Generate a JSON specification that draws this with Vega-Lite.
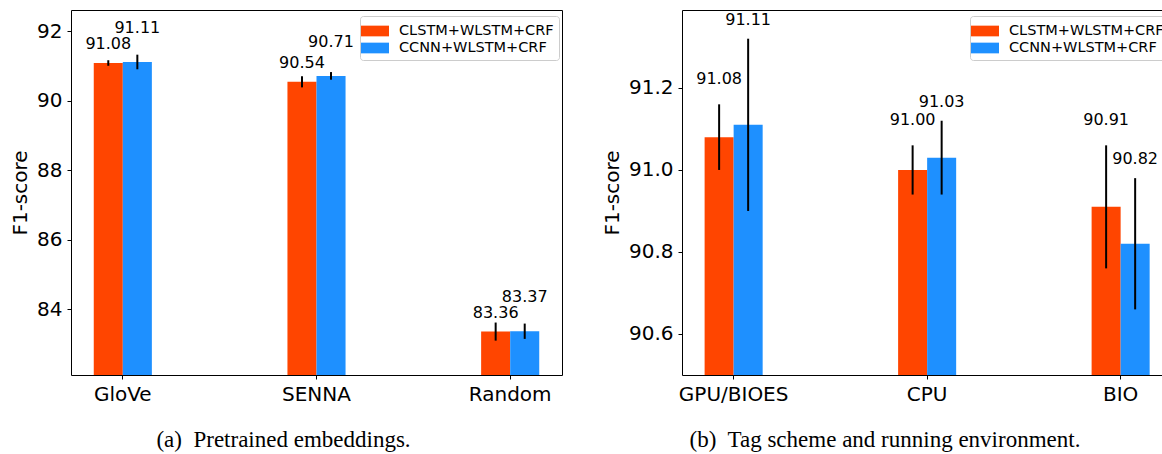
{
  "$schema": "https://vega.github.io/schema/vega-lite/v6.json",
  "background": "white",
  "padding": {"left": 10, "top": 10, "right": 0, "bottom": 0},
  "config": {
    "view": {"stroke": null},
    "axis": {"grid": false, "domainColor": "black", "domainWidth": 1, "tickColor": "black", "tickSize": 4, "tickWidth": 1, "labelFont": "DejaVu Sans", "labelFontSize": 20, "labelColor": "black", "titleFont": "DejaVu Sans", "titleFontSize": 20, "titleFontWeight": "normal", "titleColor": "black"},
    "axisX": {"labelAngle": 0, "labelPadding": 5},
    "axisY": {"labelPadding": 5, "titlePadding": 6},
    "title": {"font": "Liberation Serif", "fontSize": 23, "fontWeight": "normal", "color": "black", "orient": "bottom", "offset": 25},
    "text": {"font": "DejaVu Sans", "fontSize": 16, "color": "black", "baseline": "middle"}
  },
  "datasets": {
    "a": [
      {"emb": "GloVe", "model": "CLSTM+WLSTM+CRF", "f1": 91.08, "lo": 91.00, "hi": 91.16},
      {"emb": "GloVe", "model": "CCNN+WLSTM+CRF", "f1": 91.11, "lo": 90.90, "hi": 91.32},
      {"emb": "SENNA", "model": "CLSTM+WLSTM+CRF", "f1": 90.54, "lo": 90.38, "hi": 90.70},
      {"emb": "SENNA", "model": "CCNN+WLSTM+CRF", "f1": 90.71, "lo": 90.60, "hi": 90.82},
      {"emb": "Random", "model": "CLSTM+WLSTM+CRF", "f1": 83.36, "lo": 83.10, "hi": 83.62},
      {"emb": "Random", "model": "CCNN+WLSTM+CRF", "f1": 83.37, "lo": 83.15, "hi": 83.59}
    ],
    "b": [
      {"env": "GPU/BIOES", "model": "CLSTM+WLSTM+CRF", "f1": 91.08, "lo": 91.00, "hi": 91.16},
      {"env": "GPU/BIOES", "model": "CCNN+WLSTM+CRF", "f1": 91.11, "lo": 90.90, "hi": 91.32},
      {"env": "CPU", "model": "CLSTM+WLSTM+CRF", "f1": 91.00, "lo": 90.94, "hi": 91.06},
      {"env": "CPU", "model": "CCNN+WLSTM+CRF", "f1": 91.03, "lo": 90.94, "hi": 91.12},
      {"env": "BIO", "model": "CLSTM+WLSTM+CRF", "f1": 90.91, "lo": 90.76, "hi": 91.06},
      {"env": "BIO", "model": "CCNN+WLSTM+CRF", "f1": 90.82, "lo": 90.66, "hi": 90.98}
    ]
  },
  "spacing": 120,
  "bounds": "flush",
  "resolve": {"scale": {"color": "independent", "x": "independent", "y": "independent", "xOffset": "independent"}, "legend": {"color": "independent"}},
  "hconcat": [
    {
      "width": 491,
      "height": 365,
      "title": {"text": "(a)\u00a0 Pretrained embeddings.", "dx": -33},
      "data": {"name": "a"},
      "encoding": {
        "xOffset": {"field": "model", "type": "nominal", "sort": ["CLSTM+WLSTM+CRF", "CCNN+WLSTM+CRF"], "scale": {"paddingInner": 0, "paddingOuter": 0}}
      },
      "layer": [
        {
          "mark": {"type": "bar", "clip": true},
          "encoding": {
            "x": {"field": "emb", "type": "nominal", "sort": ["GloVe", "SENNA", "Random"], "scale": {"paddingInner": 0.7, "paddingOuter": 0.1175}, "axis": {"title": null, "orient": "bottom"}},
            "y": {"field": "f1", "type": "quantitative", "scale": {"domain": [82.112, 92.604], "nice": false, "zero": false}, "axis": {"values": [84, 86, 88, 90, 92], "title": "F1-score"}},
            "color": {"field": "model", "type": "nominal", "scale": {"domain": ["CLSTM+WLSTM+CRF", "CCNN+WLSTM+CRF"], "range": ["#FF4500", "#1E90FF"]},
              "legend": {"orient": "none", "legendX": 289, "legendY": 6, "title": null, "symbolType": "M-1.4,-0.535H1.4V0.535H-1.4Z", "symbolSize": 400, "symbolStrokeWidth": 0, "symbolOpacity": 1, "labelFont": "DejaVu Sans", "labelFontSize": 14.5, "labelColor": "black", "labelOffset": 14, "rowPadding": 0, "padding": 5, "fillColor": "rgba(255,255,255,0.8)", "strokeColor": "#cccccc", "cornerRadius": 3}}
          }
        },
        {
          "mark": {"type": "rule", "color": "black", "strokeWidth": 2},
          "encoding": {
            "x": {"field": "emb", "type": "nominal", "sort": ["GloVe", "SENNA", "Random"], "scale": {"paddingInner": 0.7, "paddingOuter": 0.1175}, "axis": {"orient": "top", "labels": false, "ticks": false, "title": null}},
            "y": {"field": "lo", "type": "quantitative", "scale": {"domain": [82.112, 92.604], "nice": false, "zero": false}, "axis": {"orient": "right", "labels": false, "ticks": false, "title": null}},
            "y2": {"field": "hi"}
          }
        },
        {
          "transform": [{"filter": "datum.model === 'CLSTM+WLSTM+CRF'"}],
          "mark": {"type": "text", "dy": -19},
          "encoding": {
            "x": {"field": "emb", "type": "nominal", "sort": ["GloVe", "SENNA", "Random"], "scale": {"paddingInner": 0.7, "paddingOuter": 0.1175}, "axis": null},
            "y": {"field": "f1", "type": "quantitative", "scale": {"domain": [82.112, 92.604], "nice": false, "zero": false}, "axis": null},
            "text": {"field": "f1", "type": "quantitative", "format": ".2f"}
          }
        },
        {
          "transform": [{"filter": "datum.model === 'CCNN+WLSTM+CRF'"}],
          "mark": {"type": "text", "dy": -34},
          "encoding": {
            "x": {"field": "emb", "type": "nominal", "sort": ["GloVe", "SENNA", "Random"], "scale": {"paddingInner": 0.7, "paddingOuter": 0.1175}, "axis": null},
            "y": {"field": "f1", "type": "quantitative", "scale": {"domain": [82.112, 92.604], "nice": false, "zero": false}, "axis": null},
            "text": {"field": "f1", "type": "quantitative", "format": ".2f"}
          }
        }
      ],
      "resolve": {"axis": {"x": "independent", "y": "independent"}}
    },
    {
      "width": 480,
      "height": 365,
      "title": {"text": "(b)\u00a0 Tag scheme and running environment.", "dx": -37},
      "data": {"name": "b"},
      "encoding": {
        "xOffset": {"field": "model", "type": "nominal", "sort": ["CLSTM+WLSTM+CRF", "CCNN+WLSTM+CRF"], "scale": {"paddingInner": 0, "paddingOuter": 0}}
      },
      "layer": [
        {
          "mark": {"type": "bar", "clip": true},
          "encoding": {
            "x": {"field": "env", "type": "nominal", "sort": ["GPU/BIOES", "CPU", "BIO"], "scale": {"paddingInner": 0.7, "paddingOuter": 0.0903, "align": 0.647}, "axis": {"title": null, "orient": "bottom"}},
            "y": {"field": "f1", "type": "quantitative", "scale": {"domain": [90.5, 91.39], "nice": false, "zero": false}, "axis": {"values": [90.6, 90.8, 91.0, 91.2], "format": ".1f", "title": "F1-score"}},
            "color": {"field": "model", "type": "nominal", "scale": {"domain": ["CLSTM+WLSTM+CRF", "CCNN+WLSTM+CRF"], "range": ["#FF4500", "#1E90FF"]},
              "legend": {"orient": "none", "legendX": 288, "legendY": 6, "title": null, "symbolType": "M-1.4,-0.535H1.4V0.535H-1.4Z", "symbolSize": 400, "symbolStrokeWidth": 0, "symbolOpacity": 1, "labelFont": "DejaVu Sans", "labelFontSize": 14.5, "labelColor": "black", "labelOffset": 14, "rowPadding": 0, "padding": 5, "fillColor": "rgba(255,255,255,0.8)", "strokeColor": "#cccccc", "cornerRadius": 3}}
          }
        },
        {
          "mark": {"type": "rule", "color": "black", "strokeWidth": 2},
          "encoding": {
            "x": {"field": "env", "type": "nominal", "sort": ["GPU/BIOES", "CPU", "BIO"], "scale": {"paddingInner": 0.7, "paddingOuter": 0.0903, "align": 0.647}, "axis": {"orient": "top", "labels": false, "ticks": false, "title": null}},
            "y": {"field": "lo", "type": "quantitative", "scale": {"domain": [90.5, 91.39], "nice": false, "zero": false}, "axis": null},
            "y2": {"field": "hi"}
          }
        },
        {
          "transform": [{"filter": "datum.model === 'CLSTM+WLSTM+CRF'"}],
          "mark": {"type": "text", "dy": -25},
          "encoding": {
            "x": {"field": "env", "type": "nominal", "sort": ["GPU/BIOES", "CPU", "BIO"], "scale": {"paddingInner": 0.7, "paddingOuter": 0.0903, "align": 0.647}, "axis": null},
            "y": {"field": "hi", "type": "quantitative", "scale": {"domain": [90.5, 91.39], "nice": false, "zero": false}, "axis": null},
            "text": {"field": "f1", "type": "quantitative", "format": ".2f"}
          }
        },
        {
          "transform": [{"filter": "datum.model === 'CCNN+WLSTM+CRF'"}],
          "mark": {"type": "text", "dy": -19},
          "encoding": {
            "x": {"field": "env", "type": "nominal", "sort": ["GPU/BIOES", "CPU", "BIO"], "scale": {"paddingInner": 0.7, "paddingOuter": 0.0903, "align": 0.647}, "axis": null},
            "y": {"field": "hi", "type": "quantitative", "scale": {"domain": [90.5, 91.39], "nice": false, "zero": false}, "axis": null},
            "text": {"field": "f1", "type": "quantitative", "format": ".2f"}
          }
        }
      ],
      "resolve": {"axis": {"x": "independent", "y": "independent"}}
    }
  ]
}
